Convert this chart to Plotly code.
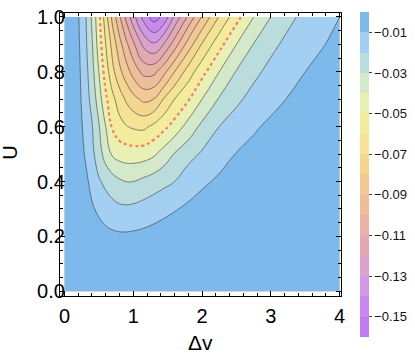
import plotly.graph_objects as go

# Axis grids (Δv columns, U rows)
dv = [0, 0.1, 0.2, 0.3, 0.4, 0.5, 0.6, 0.7, 0.8, 0.9, 1.0, 1.15, 1.3, 1.45, 1.6, 1.8, 2.0, 2.25, 2.5, 2.75, 3.0, 3.25, 3.5, 3.75, 4.0]
u = [0.0, 0.1, 0.2, 0.3, 0.4, 0.5, 0.6, 0.7, 0.8, 0.9, 1.0]

# Values, one row per U value
row_00 = [0, 0, 0, 0, 0, 0, 0, 0, 0, 0, 0, 0, 0, 0, 0, 0, 0, 0, 0, 0, 0, 0, 0, 0, 0]
row_01 = [0, -0.0001, -0.0003, -0.0006, -0.0010, -0.0015, -0.0018, -0.0020, -0.0021, -0.0021, -0.0020, -0.0018, -0.0016, -0.0014, -0.0012, -0.0009, -0.0007, -0.0006, -0.0005, -0.0004, -0.0003, -0.0003, -0.0002, -0.0002, -0.0002]
row_02 = [0, -0.0005, -0.0014, -0.0026, -0.0040, -0.0058, -0.0070, -0.0079, -0.0084, -0.0084, -0.0081, -0.0074, -0.0065, -0.0056, -0.0047, -0.0038, -0.0030, -0.0023, -0.0018, -0.0015, -0.0012, -0.0010, -0.0008, -0.0007, -0.0006]
row_03 = [0, -0.0006, -0.0025, -0.0052, -0.0088, -0.0118, -0.0148, -0.0168, -0.0180, -0.0182, -0.0177, -0.0162, -0.0142, -0.0123, -0.0106, -0.0086, -0.0071, -0.0057, -0.0047, -0.0039, -0.0033, -0.0028, -0.0024, -0.0021, -0.0019]
row_04 = [0, -0.0008, -0.0033, -0.0074, -0.0129, -0.0188, -0.0224, -0.0255, -0.0285, -0.0301, -0.0300, -0.0275, -0.0250, -0.0225, -0.0200, -0.0140, -0.0112, -0.0089, -0.0072, -0.0060, -0.0051, -0.0045, -0.0040, -0.0036, -0.0032]
row_05 = [0, -0.0012, -0.0048, -0.0107, -0.0173, -0.0255, -0.0345, -0.0415, -0.0440, -0.0449, -0.0451, -0.0445, -0.0415, -0.0354, -0.0294, -0.0237, -0.0187, -0.0126, -0.0097, -0.0086, -0.0075, -0.0066, -0.0058, -0.0052, -0.0047]
row_06 = [0, -0.0015, -0.0059, -0.0127, -0.0193, -0.0290, -0.0400, -0.0515, -0.0565, -0.0595, -0.0613, -0.0622, -0.0576, -0.0524, -0.0460, -0.0360, -0.0276, -0.0200, -0.0156, -0.0106, -0.0091, -0.0080, -0.0070, -0.0062, -0.0055]
row_07 = [0, -0.0017, -0.0069, -0.0146, -0.0233, -0.0350, -0.0480, -0.0574, -0.0650, -0.0716, -0.0768, -0.0821, -0.0798, -0.0688, -0.0600, -0.0509, -0.0400, -0.0291, -0.0218, -0.0168, -0.0114, -0.0097, -0.0084, -0.0073, -0.0064]
row_08 = [0, -0.0019, -0.0076, -0.0158, -0.0263, -0.0400, -0.0547, -0.0675, -0.0773, -0.0858, -0.0938, -0.1031, -0.1028, -0.0925, -0.0800, -0.0653, -0.0533, -0.0400, -0.0294, -0.0223, -0.0173, -0.0134, -0.0100, -0.0089, -0.0079]
row_09 = [0, -0.0022, -0.0083, -0.0173, -0.0288, -0.0446, -0.0600, -0.0738, -0.0863, -0.0978, -0.1080, -0.1225, -0.1284, -0.1191, -0.1050, -0.0855, -0.0693, -0.0535, -0.0400, -0.0297, -0.0224, -0.0175, -0.0137, -0.0102, -0.0090]
row_10 = [0, -0.0025, -0.0092, -0.0180, -0.0317, -0.0471, -0.0660, -0.0833, -0.0986, -0.1129, -0.1263, -0.1438, -0.1550, -0.1467, -0.1280, -0.1080, -0.0891, -0.0693, -0.0535, -0.0400, -0.0300, -0.0224, -0.0174, -0.0136, -0.0100]

z = [row_00, row_01, row_02, row_03, row_04, row_05, row_06, row_07, row_08, row_09, row_10]

# Band colours, from the lowest band (-0.16..-0.15) to the highest (-0.01..0)
band_colors = ["#c07cf0", "#c88aed", "#d099e4", "#daa3cc", "#e2a9b3", "#e9b2a4", "#eebd9a", "#f2c994",
               "#f4d690", "#f4e394", "#f2ec9c", "#e9f0b4", "#d4e8ca", "#badcdc", "#a2cff2", "#7db9ea"]
cbar_ticks = [-0.01, -0.03, -0.05, -0.07, -0.09, -0.11, -0.13, -0.15]

n = len(band_colors)
# colour scale for the contour fill (plotly samples each band at its midpoint)
fill_scale = []
for j, c in enumerate(band_colors):
    lo = 0.0 if j == 0 else (j + 0.5) / n
    hi = min(1.0, (j + 1.5) / n)
    fill_scale.append([lo, c])
    fill_scale.append([hi, c])
# stepped colour scale for the colour bar (range -0.16 .. 0)
bar_scale = []
for j, c in enumerate(band_colors):
    bar_scale.append([j / n, c])
    bar_scale.append([(j + 1) / n, c])

FONT = "Liberation Sans"
SMOOTH = 1.3

fig = go.Figure()
fig.add_trace(go.Contour(
    x=dv, y=u, z=z,
    colorscale=fill_scale, showscale=False,
    contours=dict(start=-0.16, end=-0.01, size=0.01, coloring="fill"),
    line=dict(width=0, smoothing=SMOOTH),
    hoverinfo="skip",
))
line_gray = dict(color="rgba(60,60,60,0.75)", width=0.8, smoothing=SMOOTH)
fig.add_trace(go.Contour(x=dv, y=u, z=z, showscale=False, hoverinfo="skip",
                         contours=dict(start=-0.15, end=-0.06, size=0.01, coloring="none"),
                         line=line_gray))
fig.add_trace(go.Contour(x=dv, y=u, z=z, showscale=False, hoverinfo="skip",
                         contours=dict(start=-0.04, end=-0.01, size=0.01, coloring="none"),
                         line=line_gray))
fig.add_trace(go.Contour(x=dv, y=u, z=z, showscale=False, hoverinfo="skip",
                         contours=dict(start=-0.05, end=-0.05, size=0.1, coloring="none"),
                         line=dict(color="#f27d6b", width=2.2, dash="dot", smoothing=SMOOTH)))

# colour bar carrier (single hidden point)
fig.add_trace(go.Scatter(
    x=[2], y=[-1], mode="markers", hoverinfo="skip", showlegend=False,
    marker=dict(color=[-0.08], cmin=-0.16, cmax=0, colorscale=bar_scale, opacity=0, showscale=True,
                colorbar=dict(thickness=9, len=325, lenmode="pixels", x=1.0676, xanchor="left", xpad=0,
                              y=1.0035, yanchor="top", ypad=0, tickvals=cbar_ticks, tickformat=".2f",
                              ticks="outside", ticklen=3, tickcolor="#444", outlinewidth=0,
                              tickfont=dict(family=FONT, size=13, color="#111"))),
))

axis_common = dict(showline=True, linecolor="black", linewidth=1.2, mirror="ticks",
                   ticks="inside", ticklen=5, tickcolor="black", tickwidth=1,
                   showgrid=False, zeroline=False, automargin=False,
                   tickfont=dict(family=FONT, size=20, color="black"))
fig.update_xaxes(range=[-0.065, 4.02], tickvals=[0, 1, 2, 3, 4], ticklabelstandoff=2,
                 minor=dict(ticks="inside", ticklen=3, dtick=0.2, tickcolor="black"),
                 **axis_common)
fig.update_yaxes(range=[-0.0175, 1.0145], tickvals=[0, 0.2, 0.4, 0.6, 0.8, 1.0], tickformat=".1f",
                 ticklabelstandoff=-10,
                 minor=dict(ticks="inside", ticklen=3, dtick=0.05, tickcolor="black"),
                 **axis_common)
fig.add_annotation(text="U", xref="paper", yref="paper", x=-0.179, y=0.505, showarrow=False,
                   textangle=-90, font=dict(family=FONT, size=20, color="black"),
                   xanchor="center", yanchor="middle")
fig.add_annotation(text="Δv", xref="paper", yref="paper", x=0.5, y=-0.166, showarrow=False,
                   font=dict(family=FONT, size=21, color="black"), xanchor="center", yanchor="middle")
fig.update_layout(width=415, height=356, margin=dict(l=60, r=74, t=13, b=60, autoexpand=False),
                  paper_bgcolor="white", plot_bgcolor="white", showlegend=False)
fig.write_html("out.html", config={"displayModeBar": False},
               post_script="document.body.style.margin='0px';document.body.style.overflow='hidden';")
